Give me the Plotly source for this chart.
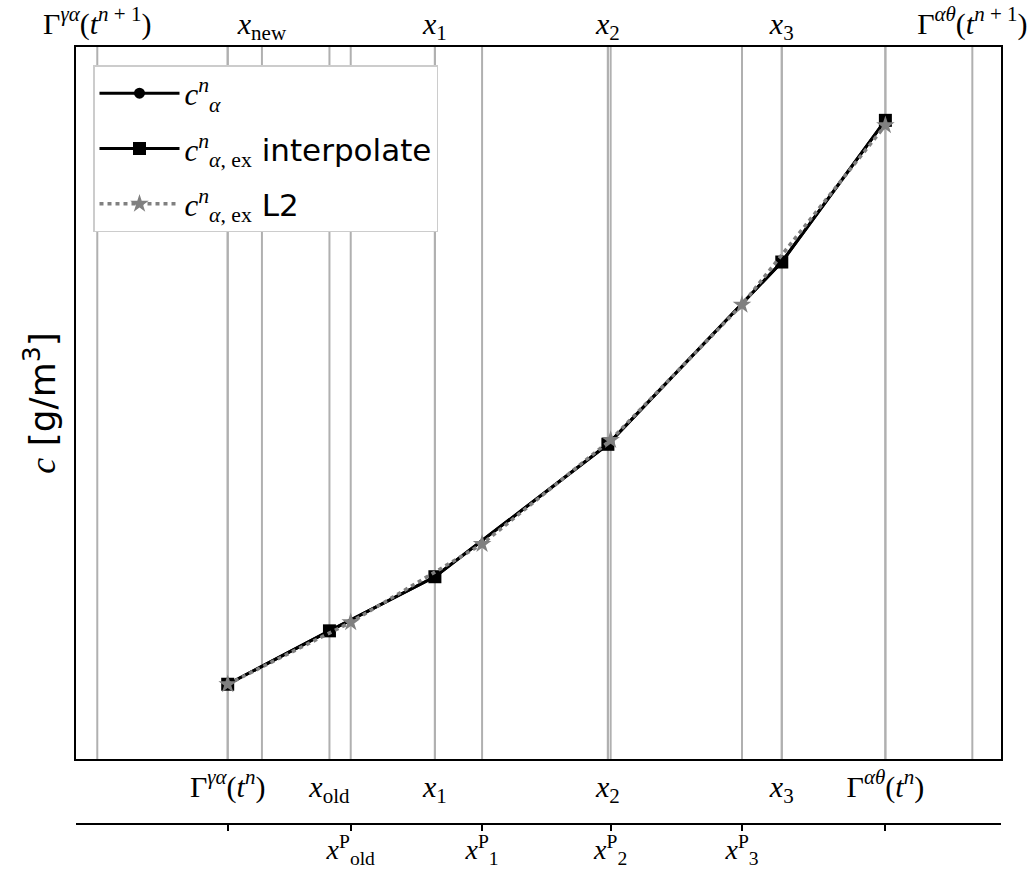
import plotly.graph_objects as go

# ---- data ----
# positions of old grid (bottom axis), new grid (top axis), projected grid (second bottom axis)
x_old_pos = [0.164, 0.274, 0.388, 0.575, 0.763, 0.875]
x_old_labels = ["Γ<sup><i>γα</i></sup>(<i>t</i><sup><i>n</i></sup>)", "<i>x</i><sub>old</sub>",
                "<i>x</i><sub>1</sub>", "<i>x</i><sub>2</sub>", "<i>x</i><sub>3</sub>",
                "Γ<sup><i>αθ</i></sup>(<i>t</i><sup><i>n</i></sup>)"]
x_new_pos = [0.023, 0.201, 0.388, 0.575, 0.763, 0.969]
x_new_labels = ["Γ<sup><i>γα</i></sup>(<i>t</i><sup><i>n</i> + 1</sup>)", "<i>x</i><sub>new</sub>",
                "<i>x</i><sub>1</sub>", "<i>x</i><sub>2</sub>", "<i>x</i><sub>3</sub>",
                "Γ<sup><i>αθ</i></sup>(<i>t</i><sup><i>n</i> + 1</sup>)"]
x_p_pos = [0.164, 0.297, 0.439, 0.578, 0.720, 0.875]
x_p_labels = ["", "<i>x</i><sup>P</sup><sub>old</sub>", "<i>x</i><sup>P</sup><sub>1</sub>",
              "<i>x</i><sup>P</sup><sub>2</sub>", "<i>x</i><sup>P</sup><sub>3</sub>", ""]

c_alpha = [0.105, 0.180, 0.256, 0.442, 0.698, 0.897]
c_ex_interp = [0.105, 0.180, 0.256, 0.442, 0.698, 0.897]
c_ex_l2 = [0.105, 0.192, 0.302, 0.448, 0.638, 0.890]

SERIF = "Liberation Serif"
SANS = "DejaVu Sans"

def ser(s):
    return f"<span style='font-family:{SERIF}'>{s}</span>"

fig = go.Figure()

fig.add_trace(go.Scatter(
    x=x_old_pos, y=c_alpha, mode="lines+markers", legendgroup="a",
    name=ser("<i>c</i><sup><i>n</i></sup><sub><i>α</i></sub>"),
    line=dict(color="black", width=3),
    marker=dict(symbol="circle", size=11, color="black")))
fig.add_trace(go.Scatter(
    x=x_old_pos, y=c_ex_interp, mode="lines+markers", legendgroup="b",
    name=ser("<i>c</i><sup><i>n</i></sup><sub><i>α</i>, ex</sub>") + " interpolate",
    line=dict(color="black", width=3),
    marker=dict(symbol="square", size=13, color="black")))
fig.add_trace(go.Scatter(
    x=x_p_pos, y=c_ex_l2, mode="lines+markers", legendgroup="c",
    name=ser("<i>c</i><sup><i>n</i></sup><sub><i>α</i>, ex</sub>") + " L2",
    line=dict(color="#808080", width=3.5, dash="4px,4px"),
    marker=dict(symbol="star", size=14, color="#808080")))

# dummy traces to instantiate extra axes
fig.add_trace(go.Scatter(x=x_new_pos, y=[None] * len(x_new_pos), xaxis="x2", yaxis="y",
                         mode="markers", showlegend=False, hoverinfo="skip"))
fig.add_trace(go.Scatter(x=x_p_pos, y=[None] * len(x_p_pos), xaxis="x3", yaxis="y",
                         mode="markers", showlegend=False, hoverinfo="skip"))

# vertical grid lines
shapes = []
for xs in (x_old_pos, x_new_pos, x_p_pos):
    for xv in xs:
        shapes.append(dict(type="line", xref="x", yref="y domain", x0=xv, x1=xv, y0=0, y1=1,
                           line=dict(color="#b0b0b0", width=2), layer="below"))

W, H = 1035, 873
mt, mb, ml, mr = 47, 49, 76, 34
ph = H - mt - mb
dom0 = (824 - 759) / ph

tickfont = dict(family=SERIF, size=30, color="black")

fig.update_layout(
    width=W, height=H,
    margin=dict(l=ml, r=mr, t=mt, b=mb, autoexpand=False),
    plot_bgcolor="white", paper_bgcolor="white",
    shapes=shapes,
    xaxis=dict(range=[0, 1], tickvals=x_old_pos, ticktext=x_old_labels, tickfont=tickfont,
               showgrid=False, zeroline=False, showline=True, linecolor="black", linewidth=1.5,
               mirror=True, ticks="", ticklabelstandoff=0, automargin=False),
    xaxis2=dict(range=[0, 1], overlaying="x", side="top", anchor="y", tickvals=x_new_pos,
                ticktext=x_new_labels, tickfont=tickfont, showgrid=False, zeroline=False,
                showline=False, ticks="", ticklabelstandoff=6, automargin=False),
    xaxis3=dict(range=[0, 1], overlaying="x", side="bottom", anchor="free", position=0,
                tickvals=x_p_pos, ticktext=x_p_labels,
                tickfont=dict(family=SERIF, size=28, color="black"), showgrid=False,
                zeroline=False, showline=True, linecolor="black", linewidth=1.5,
                ticks="outside", ticklen=6, tickwidth=1.5, tickcolor="black",
                ticklabelstandoff=-5, automargin=False),
    yaxis=dict(range=[0, 1], domain=[dom0, 1], showticklabels=False, showgrid=False,
               zeroline=False, showline=True, linecolor="black", linewidth=1.5, mirror=True,
               ticks="", automargin=False,
               title=dict(text=ser("<i>c</i>") + " [g/m<sup>3</sup>]",
                          font=dict(family=SANS, size=36, color="black"), standoff=8)),
    legend=dict(x=(93 - ml) / (W - ml - mr), y=(824 - 65) / ph, xanchor="left", yanchor="top",
                bgcolor="white", bordercolor="#cccccc", borderwidth=1.5,
                font=dict(family=SANS, size=31, color="black"), tracegroupgap=12,
                itemwidth=80),
    showlegend=True,
)

fig.write_html("out.html")
